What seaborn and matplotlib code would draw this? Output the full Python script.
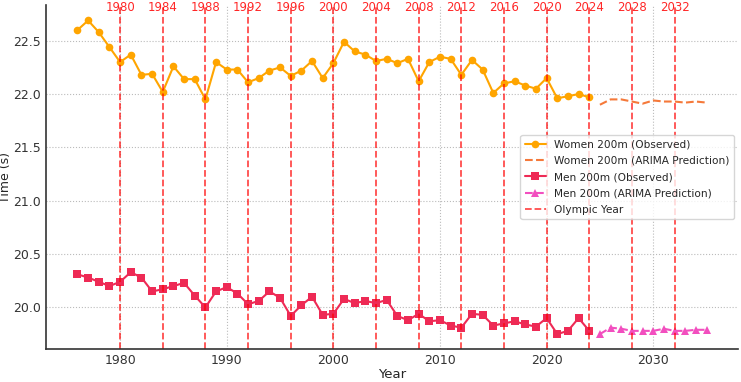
import matplotlib
matplotlib.use("Agg")
import matplotlib.pyplot as plt
import numpy as np
import pandas as pd
import seaborn as sns

# ---------------------------------------------------------------------------
# data
# ---------------------------------------------------------------------------
obs_years = list(range(1976, 2025))
pred_years = list(range(2025, 2036))

women_obs = [22.60, 22.69, 22.58, 22.44, 22.30, 22.37, 22.18, 22.19, 22.02, 22.26,
             22.14, 22.14, 21.95, 22.30, 22.23, 22.23, 22.11, 22.15, 22.22, 22.25,
             22.17, 22.22, 22.31, 22.15, 22.29, 22.49, 22.40, 22.37, 22.31, 22.33,
             22.29, 22.33, 22.12, 22.30, 22.35, 22.33, 22.18, 22.32, 22.23, 22.01,
             22.10, 22.12, 22.08, 22.05, 22.15, 21.96, 21.98, 22.00, 21.97]
women_pred = [21.90, 21.95, 21.95, 21.93, 21.91, 21.94, 21.93, 21.93, 21.92, 21.93, 21.92]

men_obs = [20.31, 20.28, 20.24, 20.20, 20.24, 20.33, 20.28, 20.15, 20.17, 20.20,
           20.23, 20.11, 20.00, 20.15, 20.19, 20.13, 20.03, 20.06, 20.15, 20.09,
           19.92, 20.02, 20.10, 19.93, 19.94, 20.08, 20.04, 20.06, 20.04, 20.07,
           19.92, 19.88, 19.94, 19.87, 19.88, 19.83, 19.81, 19.94, 19.93, 19.83,
           19.85, 19.87, 19.84, 19.82, 19.90, 19.75, 19.78, 19.90, 19.78]
men_pred = [19.75, 19.81, 19.80, 19.78, 19.78, 19.78, 19.80, 19.78, 19.78, 19.79, 19.79]

olympic_years = [1980, 1984, 1988, 1992, 1996, 2000, 2004, 2008, 2012, 2016,
                 2020, 2024, 2028, 2032]

# ---------------------------------------------------------------------------
# plot
# ---------------------------------------------------------------------------
sns.set_style("white")
plt.rcParams["font.family"] = ["DejaVu Sans"]

obs_df = pd.DataFrame({"Year": obs_years, "Women": women_obs, "Men": men_obs})
pred_df = pd.DataFrame({"Year": pred_years, "Women": women_pred, "Men": men_pred})

fig = plt.figure(figsize=(7.41, 3.82), dpi=100)
ax = fig.add_axes([46 / 741, 33 / 382, 692 / 741, 344 / 382])

sns.lineplot(data=obs_df, x="Year", y="Women", ax=ax, color="orange", marker="o",
             markersize=5.5, markeredgewidth=0, linewidth=1.5,
             label="Women 200m (Observed)")
sns.lineplot(data=pred_df, x="Year", y="Women", ax=ax, color="#F5793A",
             linestyle="--", linewidth=1.5, label="Women 200m (ARIMA Prediction)")
sns.lineplot(data=obs_df, x="Year", y="Men", ax=ax, color="#EE2A55", marker="s",
             markersize=5.5, markeredgewidth=0, linewidth=1.5,
             label="Men 200m (Observed)")
sns.lineplot(data=pred_df, x="Year", y="Men", ax=ax, color="#F24FBF", marker="^",
             markersize=5.5, markeredgewidth=0, linestyle="--", linewidth=1.5,
             label="Men 200m (ARIMA Prediction)")

for i, yr in enumerate(olympic_years):
    ax.axvline(yr, color="red", linestyle="--", linewidth=1.3, alpha=0.7,
               label="Olympic Year" if i == 0 else None)
    ax.text(yr, 22.815, str(yr), color="red", alpha=0.85, fontsize=8.5,
            ha="center", va="center")

ax.set_xlim(1973.05, 2037.95)
ax.set_ylim(19.61, 22.835)
ax.set_yticks([20.0, 20.5, 21.0, 21.5, 22.0, 22.5])
ax.set_xlabel("Year", fontsize=9.5, labelpad=1)
ax.set_ylabel("Time (s)", fontsize=9, labelpad=1)
ax.tick_params(axis="both", labelsize=9, length=2, direction="in", colors="#333333")
ax.grid(True, linestyle=":", color="#bbbbbb", linewidth=0.8)
sns.despine(ax=ax)
for side in ["left", "bottom"]:
    ax.spines[side].set_color("#333333")
    ax.spines[side].set_linewidth(1.2)

ax.legend(loc="center right", fontsize=7.6, frameon=True, borderaxespad=0.4,
          handlelength=2.0, labelspacing=0.6)

fig.savefig("out.png", dpi=100)
plt.close(fig)
